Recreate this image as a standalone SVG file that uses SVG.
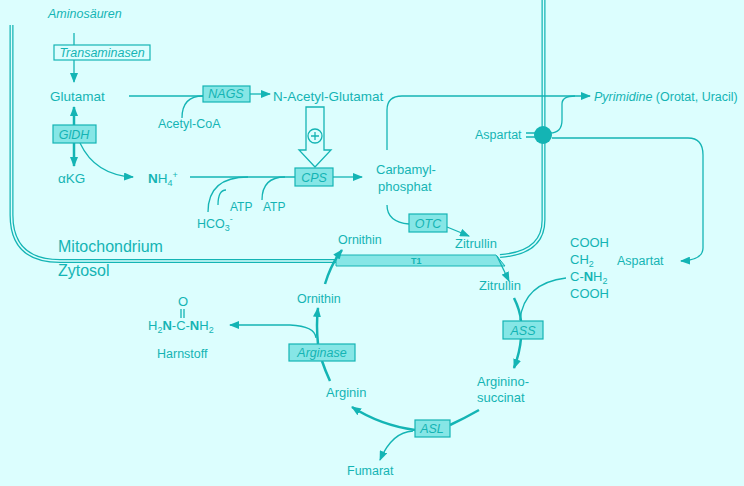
<svg xmlns="http://www.w3.org/2000/svg" width="744" height="486" viewBox="0 0 744 486">
<defs>
<marker id="ah" markerWidth="10" markerHeight="8" refX="9" refY="4" orient="auto" markerUnits="userSpaceOnUse"><path d="M0,0 L10,4 L0,8 Z" fill="#14b4b4"/></marker>
</defs>
<style>
text{font-family:"Liberation Sans",Arial,sans-serif;fill:#14b4b4;font-size:12.5px}
.i{font-style:italic}
.b{font-size:13.5px}
.c{font-size:13px}
.xs{font-size:12px}
.big{font-size:16px}
.box{fill:#86e6e6;stroke:#14b4b4;stroke-width:1.2}
.ob{fill:#dcfefe;stroke:#14b4b4;stroke-width:1.2}
.l{fill:none;stroke:#14b4b4;stroke-width:1.3}
.t{fill:none;stroke:#14b4b4;stroke-width:2.5}
.m{fill:none;stroke:#14b4b4;stroke-width:4}
.m2{fill:none;stroke:#dcfefe;stroke-width:1.5}
tspan.s,text.s{font-size:9px}
</style>
<rect width="744" height="486" fill="#dcfefe"/>
<g id="membrane">
<path class="m" d="M11.5,25 V215 Q11.5,261 60,261 H338"/>
<path class="m2" d="M11.5,25 V215 Q11.5,261 60,261 H338"/>
<path class="m" d="M543.5,0 V220 Q543.5,253 500,256"/>
<path class="m2" d="M543.5,0 V220 Q543.5,253 500,256"/>
<polygon points="336,255 496,255 505,266 336,266" fill="#86e6e6" stroke="#14b4b4"/>
<text x="411" y="264" class="s" font-weight="bold">T1</text>
<text x="58" y="252" class="big">Mitochondrium</text>
<text x="58" y="276" class="big">Zytosol</text>
</g>
<g id="connectors">
<path class="l" d="M74,33 V82" marker-end="url(#ah)"/>
<path class="t" d="M74,125 V107" marker-end="url(#ah)"/>
<path class="t" d="M74,143 V166" marker-end="url(#ah)"/>
<path class="l" d="M80,143 Q95,175 133,177" marker-end="url(#ah)"/>
<path class="l" d="M129,96 H203"/>
<path class="l" d="M182,118 Q182,96 203,96"/>
<path class="l" d="M250,94 H270" marker-end="url(#ah)"/>
<path class="l" d="M190,177 H295"/>
<path class="l" d="M208,212 Q208,177 248,177"/>
<path class="l" d="M218,205 Q218,190 226,190"/>
<path class="l" d="M262,200 Q262,177 285,177"/>
<path class="l" d="M333,177 H362" marker-end="url(#ah)"/>
<path class="l" d="M387,150 V110 Q387,96 402,96 H590" marker-end="url(#ah)"/>
<path class="l" d="M550,133 Q562,133 562,120 V104 Q562,96 575,96"/>
<path class="l" d="M526,133 H536 M526,137 H536"/>
<path class="l" d="M552,138 H688 Q703,138 703,155 V248 Q703,260 681,261" marker-end="url(#ah)"/>
<path class="l" d="M387,205 Q387,222 409,224"/>
<path class="l" d="M447,227 L469,236" marker-end="url(#ah)"/>
<path class="l" d="M497,256 L509,281" marker-end="url(#ah)"/>
<path class="t" d="M325,284 Q331,264 342,250" marker-end="url(#ah)"/>
<path class="t" d="M514,298 Q520,310 521,321"/>
<path class="t" d="M521,338 Q520,352 514,368" marker-end="url(#ah)"/>
<path class="l" d="M520,320 Q524,283 566,278"/>
<path class="t" d="M479,410 Q465,418 450,425"/>
<path class="t" d="M415,430 Q380,425 352,407" marker-end="url(#ah)"/>
<path class="l" d="M413,431 Q392,432 380,460" marker-end="url(#ah)"/>
<path class="t" d="M330,381 Q325,370 322,361"/>
<path class="t" d="M318,344 Q316,325 318,308" marker-end="url(#ah)"/>
<path class="l" d="M316,338 Q315,326 290,325 H230" marker-end="url(#ah)"/>
<path d="M306,107 H324 V150 H331 L315,167 L299,150 H306 Z" fill="#dcfefe" stroke="#14b4b4" stroke-width="1.3"/>
<circle cx="315" cy="136" r="7" fill="#dcfefe" stroke="#14b4b4" stroke-width="1.3"/>
<path class="l" d="M311,136 H319 M315,132 V140"/>
<circle cx="543" cy="135" r="9" fill="#14b4b4"/>
</g>
<g id="n-amino"><text x="48" y="18" class="i">Aminosäuren</text></g>
<g id="n-trans"><rect class="ob" x="54" y="45" width="96" height="15"/><text x="102" y="57" class="i" text-anchor="middle">Transaminasen</text></g>
<g id="n-glut"><text x="50" y="101" class="b">Glutamat</text></g>
<g id="n-gldh"><rect class="box" x="53" y="125" width="43" height="18"/><text x="74" y="139" class="i" text-anchor="middle">GlDH</text></g>
<g id="n-akg"><text x="58" y="183" class="b">αKG</text></g>
<g id="n-nh4"><text x="148" y="183" class="b"><tspan font-weight="bold">N</tspan>H<tspan class="s" dy="3">4</tspan><tspan class="s" dy="-8">+</tspan></text></g>
<g id="n-nags"><rect class="box" x="203" y="86" width="47" height="16"/><text x="226" y="98" class="i" text-anchor="middle">NAGS</text></g>
<g id="n-acoa"><text x="158" y="128">Acetyl-CoA</text></g>
<g id="n-nag"><text x="273" y="101" class="b">N-Acetyl-Glutamat</text></g>
<g id="n-cps"><rect class="box" x="295" y="168" width="38" height="18"/><text x="314" y="182" class="i" text-anchor="middle">CPS</text></g>
<g id="n-hco3"><text x="197" y="228">HCO<tspan class="s" dy="3">3</tspan><tspan class="s" dy="-9">-</tspan></text><text x="230" y="211" class="xs">ATP</text><text x="263" y="211" class="xs">ATP</text></g>
<g id="n-carb"><text x="376" y="174" class="c">Carbamyl-</text><text x="378" y="191" class="c">phosphat</text></g>
<g id="n-pyr"><text x="594" y="101"><tspan class="i">Pyrimidine</tspan> (Orotat, Uracil)</text></g>
<g id="n-asp1"><text x="475" y="139">Aspartat</text></g>
<g id="n-asp2"><text x="617" y="265">Aspartat</text></g>
<g id="n-otc"><rect class="box" x="409" y="214" width="38" height="18"/><text x="428" y="228" class="i" text-anchor="middle">OTC</text></g>
<g id="n-zit1"><text x="455" y="248" class="c">Zitrullin</text></g>
<g id="n-orn1"><text x="338" y="244">Ornithin</text></g>
<g id="n-zit2"><text x="479" y="290" class="c">Zitrullin</text></g>
<g id="n-aspf"><text x="570" y="247" class="c">COOH</text><text x="570" y="264" class="c">CH<tspan class="s" dy="3">2</tspan></text><text x="570" y="281" class="c">C-<tspan font-weight="bold">N</tspan>H<tspan class="s" dy="3">2</tspan></text><text x="570" y="298" class="c">COOH</text></g>
<g id="n-ass"><rect class="box" x="503" y="321" width="40" height="18"/><text x="523" y="335" class="i" text-anchor="middle">ASS</text></g>
<g id="n-argsuc"><text x="477" y="386" class="c">Arginino-</text><text x="477" y="402" class="c">succinat</text></g>
<g id="n-asl"><rect class="box" x="415" y="420" width="35" height="17"/><text x="432" y="433" class="i" text-anchor="middle">ASL</text></g>
<g id="n-fum"><text x="347" y="475">Fumarat</text></g>
<g id="n-arg"><text x="326" y="397" class="c">Arginin</text></g>
<g id="n-arginase"><rect class="box" x="289" y="344" width="66" height="17"/><text x="322" y="357" class="i" text-anchor="middle">Arginase</text></g>
<g id="n-orn2"><text x="297" y="303">Ornithin</text></g>
<g id="n-urea"><text x="178" y="306" class="c">O</text><path class="l" d="M181,309 V318 M184,309 V318"/><text x="148" y="330" class="c">H<tspan class="s" dy="3">2</tspan><tspan dy="-3" font-weight="bold">N</tspan>-C-<tspan font-weight="bold">N</tspan>H<tspan class="s" dy="3">2</tspan></text><text x="157" y="358">Harnstoff</text></g>
</svg>
